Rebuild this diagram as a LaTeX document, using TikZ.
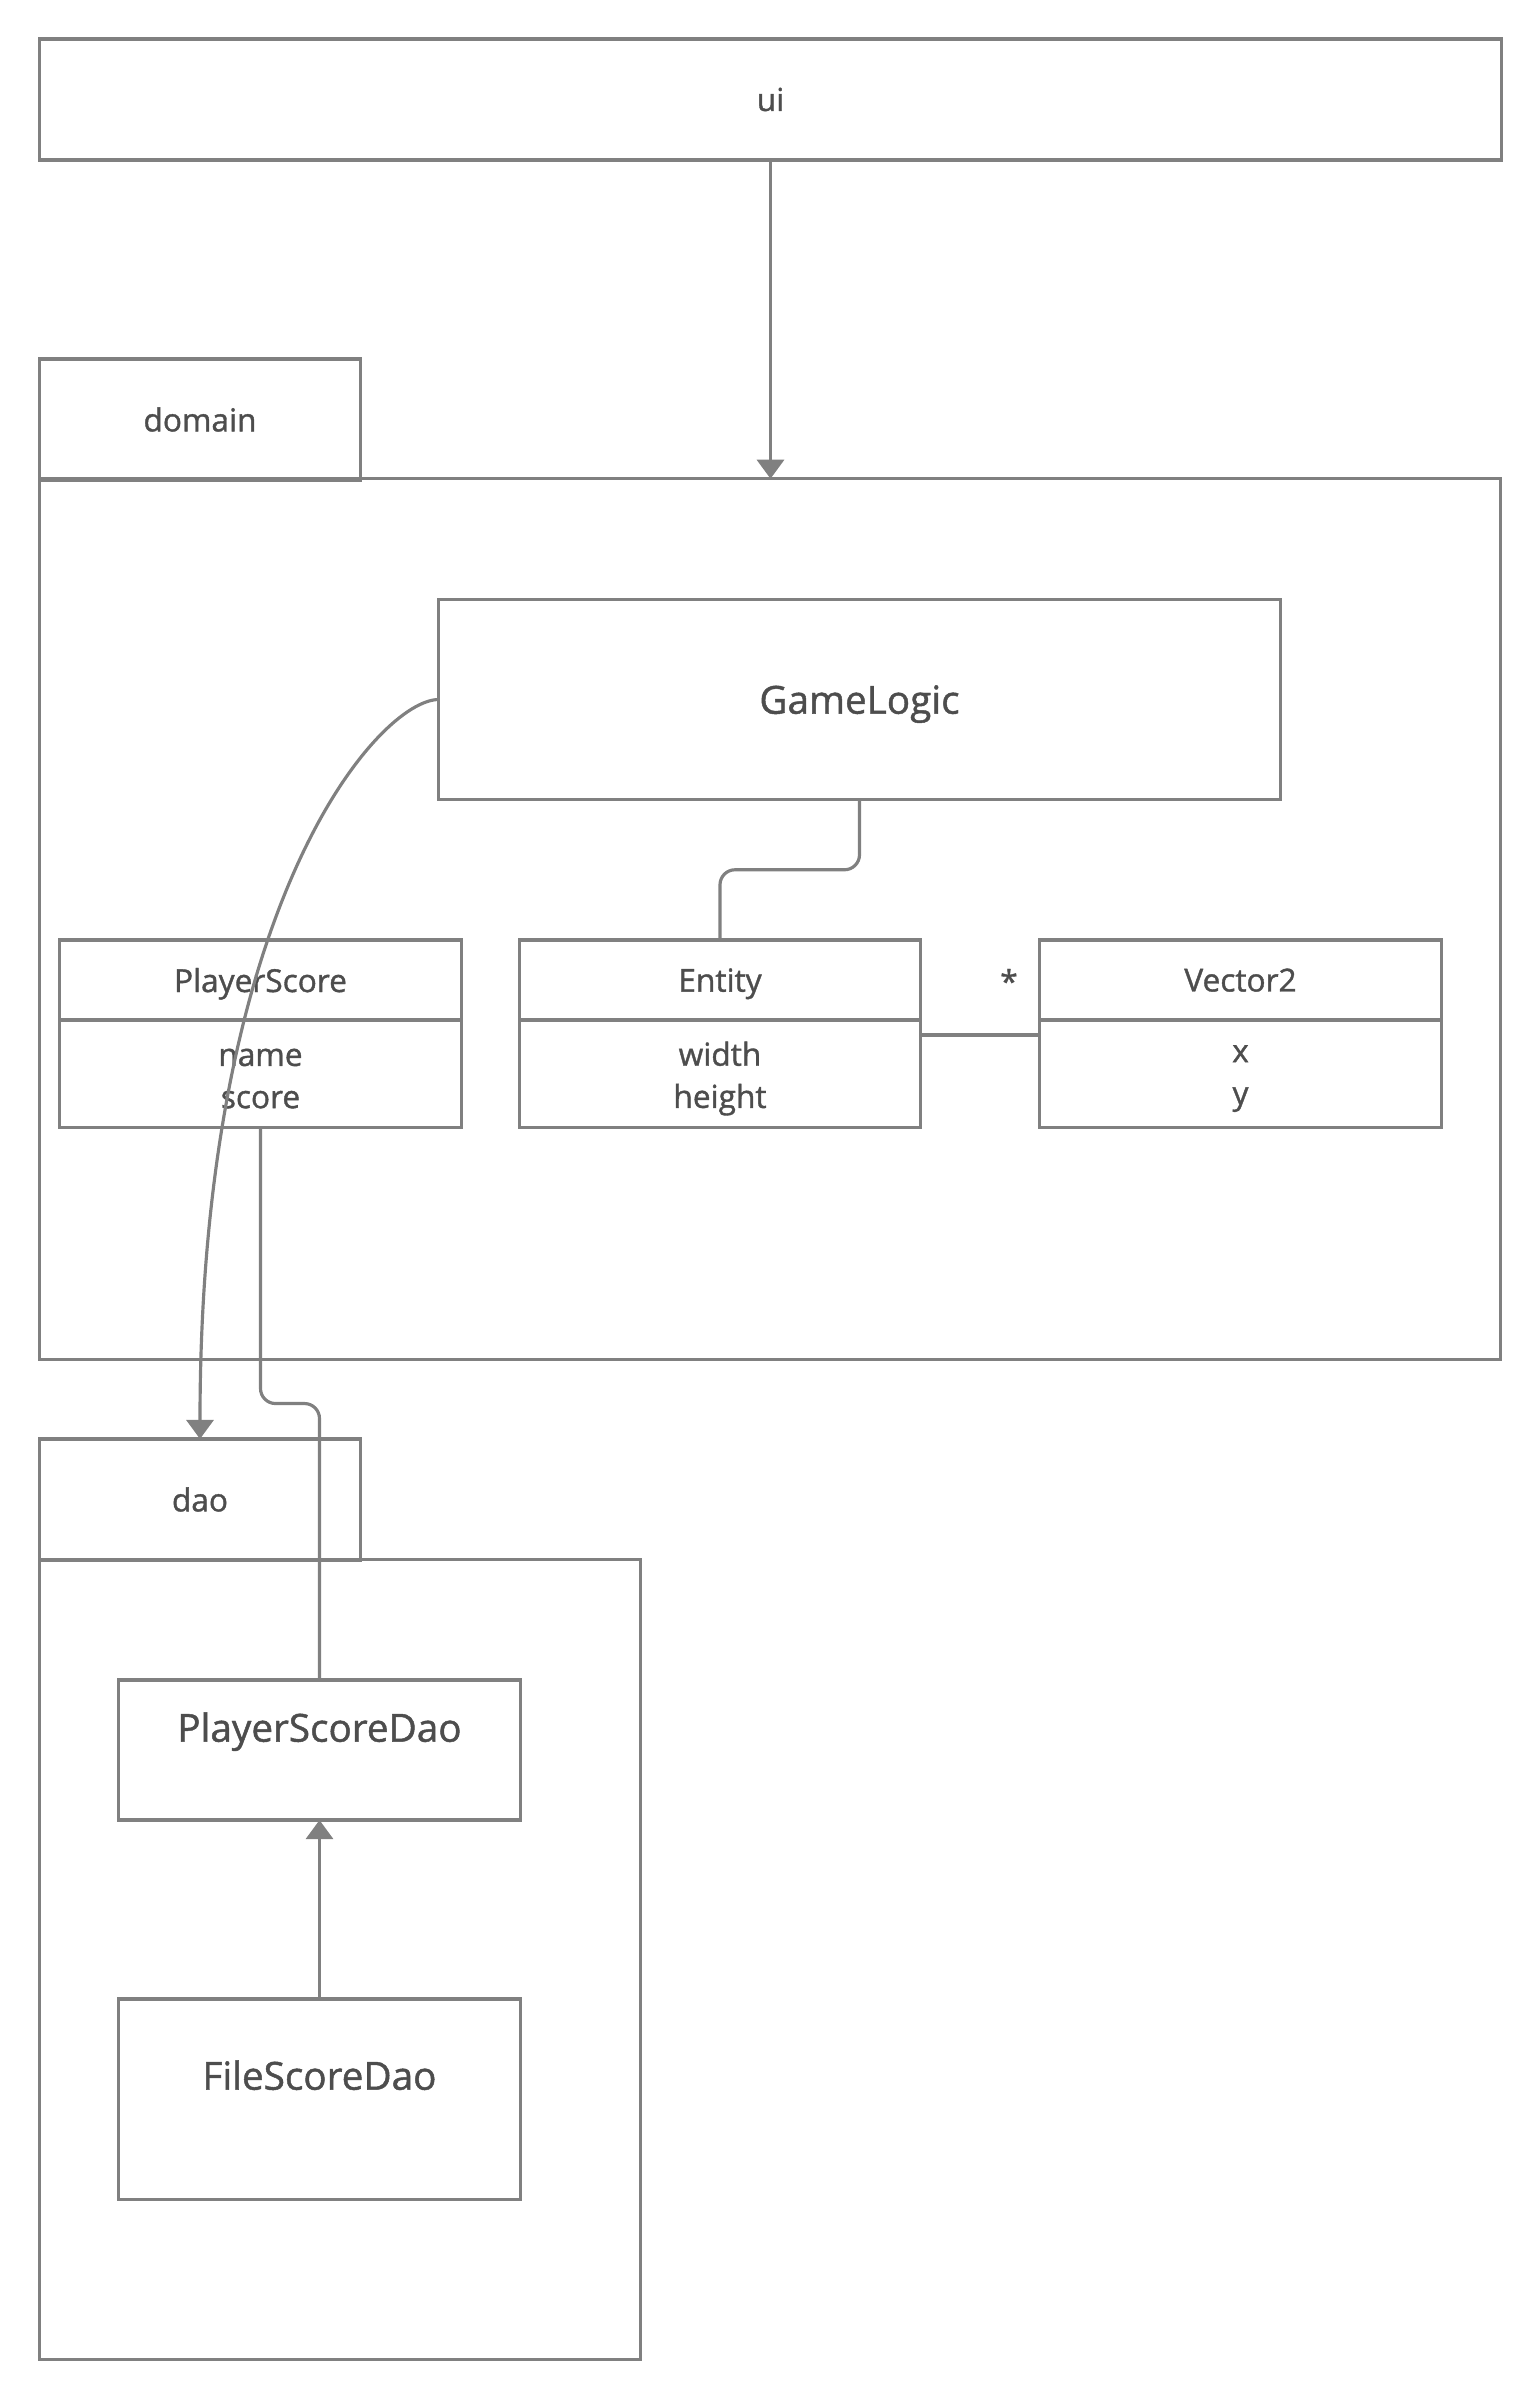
\documentclass[tikz,border=0pt]{standalone}
\usepackage{fontspec}
\setmainfont{Open Sans}[UprightFeatures={FakeBold=1.2}]
\usepackage{tikz}
\usetikzlibrary{arrows.meta, positioning, calc}
\definecolor{lgray}{HTML}{808080}
\definecolor{tgray}{HTML}{4D4D4D}
\tikzset{
  pkg/.style={rectangle, draw=lgray, line width=0.9pt, text=tgray, inner sep=0pt, outer sep=0pt,
              font=\fontsize{9}{11}\selectfont},
  cls/.style={rectangle, draw=lgray, line width=0.9pt, text=tgray, inner sep=0pt, outer sep=0pt,
              font=\fontsize{9}{12}\selectfont, align=center, text depth=0pt},
  attr/.style={text=tgray, font=\fontsize{9}{12}\selectfont, align=center, anchor=center, yshift=-0.05cm},
  big/.style={cls, font=\fontsize{11}{13}\selectfont},
  bigname/.style={text=tgray, font=\fontsize{11}{13}\selectfont, anchor=center, text depth=0pt},
  assoc/.style={draw=lgray, line width=0.9pt},
  dep/.style={draw=lgray, line width=0.9pt, -{Triangle[length=0.19cm, width=0.27cm]}}
}
\begin{document}
\begin{tikzpicture}[x=0.01cm, y=-0.01cm]
  \useasboundingbox (0,0) rectangle (1540,2400);
  % packages
  \node[pkg, minimum width=14.61cm, minimum height=1.21cm] (ui) at (770.5,99.5) {ui};
  \node[pkg, minimum width=3.2cm, minimum height=1.21cm] (domaintab) at (200,419.5) {domain};
  \node[pkg, minimum width=14.6cm, minimum height=8.8cm] (domain) at (770,919) {};
  \node[pkg, minimum width=3.2cm, minimum height=1.21cm] (daotab) at (200,1499.5) {dao};
  \node[pkg, minimum width=6cm, minimum height=7.99cm] (dao) at (340,1959.5) {};

  % domain classes
  \node[big, minimum width=8.41cm, minimum height=2cm] (logic) at (859.5,699.5) {GameLogic};
  \node[cls, minimum width=4.01cm, minimum height=0.8cm] (psh) at (260.5,980) {PlayerScore};
  \node[cls, minimum width=4.01cm, minimum height=1.07cm, below=0pt of psh,
        label={[attr]center:{name\\score}}] (psb) {};
  \node[cls, minimum width=4cm, minimum height=0.8cm] (enth) at (720,980) {Entity};
  \node[cls, minimum width=4cm, minimum height=1.07cm, below=0pt of enth,
        label={[attr]center:{width\\height}}] (entb) {};
  \node[cls, minimum width=4.01cm, minimum height=0.8cm] (vech) at (1240.5,980) {Vector2};
  \node[cls, minimum width=4.01cm, minimum height=1.07cm, below=0pt of vech,
        label={[attr]center:{x\\y}}] (vecb) {};
  \node[text=tgray, font=\fontsize{9}{11}\selectfont] (mult) at (1009,981) {*};

  % dao classes
  \node[big, minimum width=4.01cm, minimum height=1.4cm,
        label={[bigname, label distance=-0.47cm]90:PlayerScoreDao}] (psdao) at (319.5,1750) {};
  \node[big, minimum width=4.01cm, minimum height=2cm,
        label={[bigname, label distance=-0.76cm]90:FileScoreDao}] (fsdao) at (319.5,2099) {};

  % connectors
  \draw[dep] (ui.south) -- (ui.south |- domain.north);
  \draw[assoc, rounded corners=0.15cm] (logic.south) |- ($(logic.south)!0.5!(enth.north)$) -| (enth.north);
  \draw[assoc] (entb.east |- 0,1035) -- (vecb.west |- 0,1035);
  \draw[dep] (logic.west) .. controls +(-59,0) and +(0,-539) .. (daotab.north);
  \draw[assoc, rounded corners=0.15cm] (psb.south) |- ($(psb.south)!0.5!(psdao.north)$) -| (psdao.north);
  \draw[dep] (fsdao.north) -- (psdao.south);
\end{tikzpicture}
\end{document}
